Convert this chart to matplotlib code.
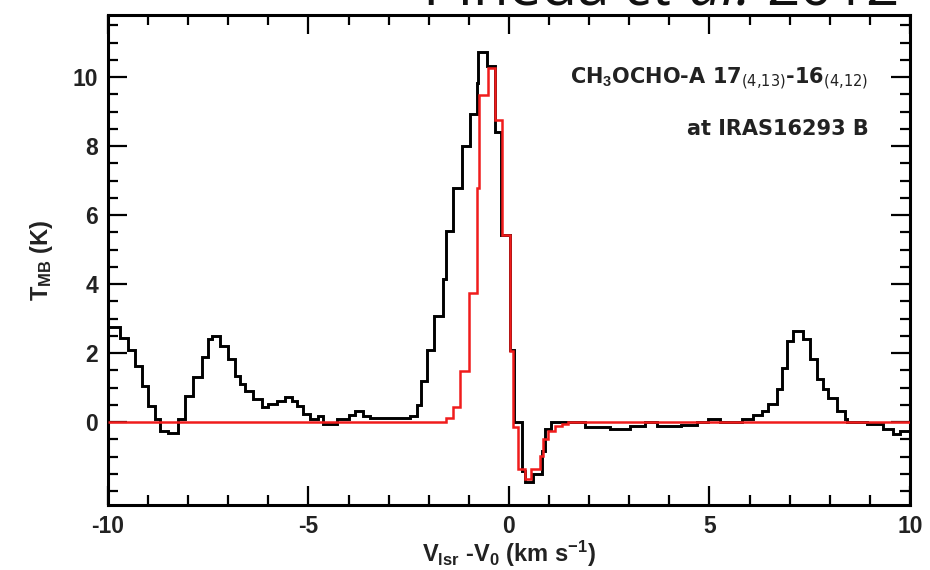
import matplotlib
matplotlib.use("Agg")
import matplotlib.pyplot as plt
from matplotlib.ticker import FixedLocator, MultipleLocator

plt.rcParams["font.family"] = ["Liberation Sans", "DejaVu Sans"]
plt.rcParams["mathtext.fontset"] = "custom"
plt.rcParams["mathtext.rm"] = "Liberation Sans:bold"
plt.rcParams["mathtext.bf"] = "Liberation Sans:bold"
plt.rcParams["mathtext.default"] = "bf"
plt.rcParams["axes.unicode_minus"] = False

obs_edges = [-10.0, -9.7, -9.49, -9.33, -9.16, -9.0, -8.83, -8.7, -8.5, -8.25,
             -8.08, -7.87, -7.66, -7.5, -7.4, -7.2, -7.0, -6.83, -6.71, -6.58,
             -6.38, -6.17, -6.0, -5.79, -5.59, -5.42, -5.29, -5.13, -4.96, -4.76,
             -4.63, -4.3, -4.0, -3.84, -3.63, -3.47, -2.47, -2.3, -2.2, -2.05,
             -1.86, -1.64, -1.58, -1.39, -1.18, -0.98, -0.81, -0.77, -0.54, -0.35,
             -0.2, 0.02, 0.12, 0.32, 0.4, 0.61, 0.82, 0.9, 1.06, 1.9,
             2.52, 3.02, 3.4, 3.7, 4.3, 4.68, 4.97, 5.26, 5.8, 6.09,
             6.3, 6.47, 6.68, 6.8, 6.93, 7.09, 7.34, 7.51, 7.67, 7.84,
             7.96, 8.17, 8.38, 8.42, 8.92, 9.33, 9.58, 9.75, 10.0]
obs_tmb = [2.75, 2.45, 2.1, 1.62, 1.04, 0.46, 0.09, -0.26, -0.32, 0.09,
           0.75, 1.3, 1.9, 2.4, 2.5, 2.2, 1.82, 1.33, 1.1, 0.9,
           0.66, 0.43, 0.52, 0.62, 0.72, 0.62, 0.46, 0.23, 0.09, 0.18,
           -0.06, 0.09, 0.2, 0.33, 0.17, 0.12, 0.18, 0.5, 1.19, 2.1,
           3.07, 4.15, 5.55, 6.8, 7.99, 8.92, 9.82, 10.73, 10.33, 8.4,
           5.43, 2.1, 0.0, -1.4, -1.74, -1.5, -0.83, -0.2, 0.0, -0.13,
           -0.2, -0.1, 0.0, -0.1, -0.09, 0.0, 0.1, 0.0, 0.1, 0.2,
           0.33, 0.52, 0.95, 1.58, 2.35, 2.64, 2.4, 1.82, 1.24, 0.95,
           0.71, 0.33, 0.1, 0.0, -0.05, -0.2, -0.35, -0.25]

# model spectrum
model_edges = [-10.0, -1.57, -1.39, -1.22, -0.99, -0.8, -0.76, -0.52, -0.35, -0.18,
               0.02, 0.1, 0.23, 0.4, 0.55, 0.77, 0.86, 0.98, 1.15, 1.31,
               1.48, 10.0]
model_tmb = [0.0, 0.12, 0.43, 1.48, 3.75, 6.8, 9.48, 10.25, 8.76, 5.43,
             2.06, -0.15, -1.36, -1.65, -1.36, -0.97, -0.49, -0.25, -0.1, -0.05,
             0.0]

x_major = [-10, -5, 0, 5, 10]
y_major = [0, 2, 4, 6, 8, 10]

fig = plt.figure(figsize=(9.3, 5.7), dpi=100)
ax = fig.add_axes([0.1161, 0.114, 0.8624, 0.8597])

ax.stairs(obs_tmb, obs_edges, baseline=None, color="black", linewidth=2.1, zorder=2)
ax.stairs(model_tmb, model_edges, baseline=None, color="#f01c1c", linewidth=1.8, zorder=3)

ax.set_xlim(-10, 10)
ax.set_ylim(-2.4, 11.8)
ax.xaxis.set_major_locator(FixedLocator(x_major))
ax.xaxis.set_minor_locator(MultipleLocator(1))
ax.yaxis.set_major_locator(FixedLocator(y_major))
ax.yaxis.set_minor_locator(MultipleLocator(0.5))

ax.tick_params(which="both", direction="in", top=True, right=True,
               width=1.6, colors="black", labelcolor="#222222")
ax.tick_params(which="major", length=14, labelsize=16.5, pad=7)
ax.tick_params(which="minor", length=7)
for lab in ax.get_xticklabels() + ax.get_yticklabels():
    lab.set_fontweight("bold")
for sp in ax.spines.values():
    sp.set_linewidth(2.2)

ax.set_xlabel(r"V$_{lsr}$ -V$_0$ (km s$^{-1}$)", fontsize=17,
              fontweight="bold", color="#222222")
ax.xaxis.set_label_coords(0.5, -0.068)
ax.set_ylabel(r"T$_{MB}$ (K)", fontsize=17, fontweight="bold", color="#222222")
ax.yaxis.set_label_coords(-0.066, 0.5)

note_font = dict(fontsize=15, fontweight="bold", color="#222222",
                 family=["DejaVu Sans"])
ax.text(0.948, 0.870, r"CH$_3$OCHO-A 17$_{\mathsf{(4{,}13)}}$-16$_{\mathsf{(4{,}12)}}$",
        transform=ax.transAxes, ha="right", va="center", **note_font)
ax.text(0.948, 0.768, "at IRAS16293 B", transform=ax.transAxes,
        ha="right", va="center", **note_font)

# citation at the top, partially cut off as in the original
cite_font = dict(fontsize=42, fontweight="normal", color="#111111",
                 family=["Open Sans", "DejaVu Sans"])
t3 = fig.text(0.967, 1 - 5 / 570, "2012", ha="right", va="baseline", **cite_font)
t2 = ax.annotate("et al. ", xy=(0, 0), xycoords=t3, ha="right", va="bottom",
                 style="italic", annotation_clip=False, **cite_font)
t1 = ax.annotate("Pineda ", xy=(0, 0), xycoords=t2, ha="right", va="bottom",
                 annotation_clip=False, **cite_font)

fig.savefig("out.png", dpi=100)
